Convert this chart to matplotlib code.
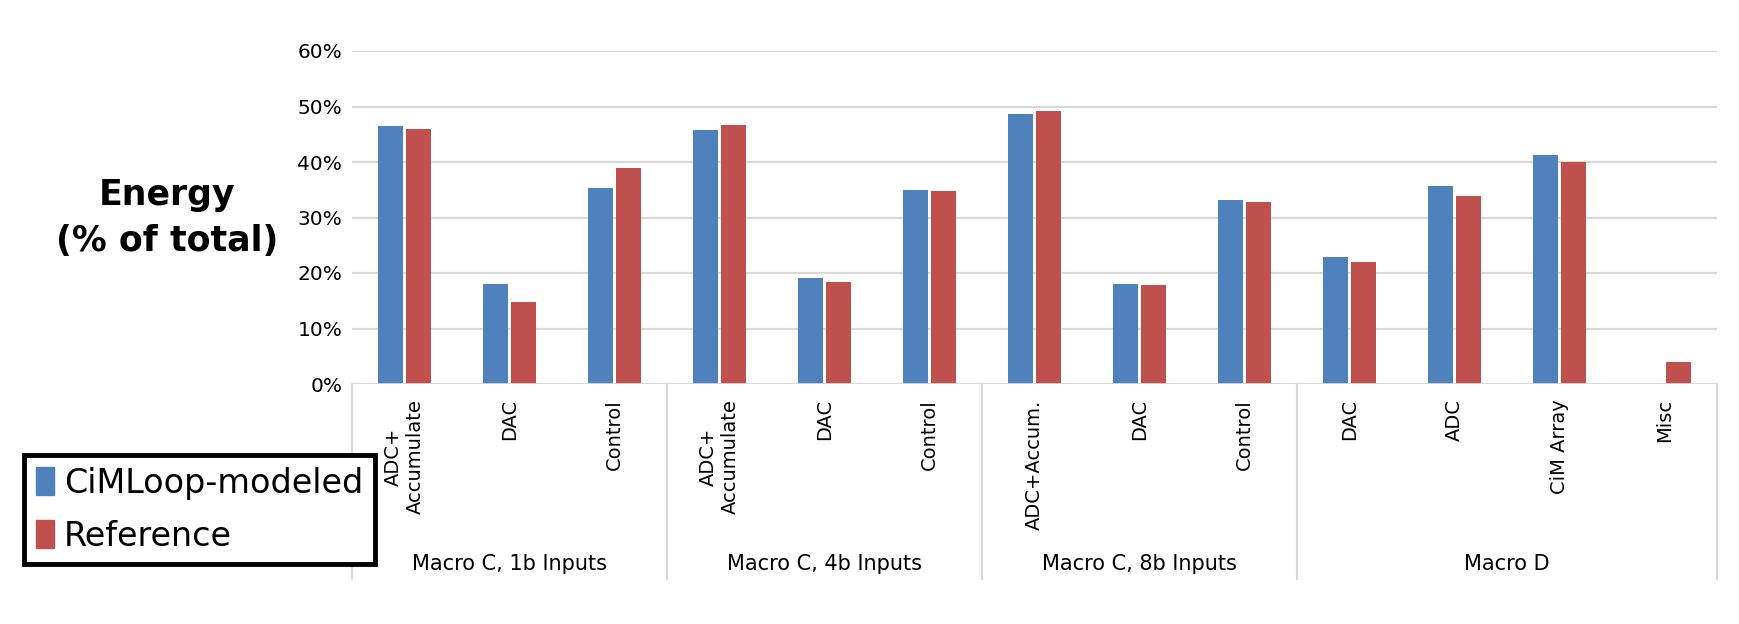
import matplotlib
matplotlib.use("Agg")
import matplotlib.pyplot as plt
from matplotlib.patches import Patch
from matplotlib.transforms import blended_transform_factory
import numpy as np

# values (% of total energy)
categories = [
    "ADC+\nAccumulate", "DAC", "Control",
    "ADC+\nAccumulate", "DAC", "Control",
    "ADC+Accum.", "DAC", "Control",
    "DAC", "ADC", "CiM Array", "Misc",
]
groups = ["Macro C, 1b Inputs", "Macro C, 4b Inputs", "Macro C, 8b Inputs", "Macro D"]
group_sizes = [3, 3, 3, 4]
cimloop = [46.5, 18.1, 35.3, 45.8, 19.1, 35.0, 48.6, 18.1, 33.1, 22.9, 35.7, 41.3, 0.0]
reference = [46.0, 14.8, 38.9, 46.6, 18.4, 34.8, 49.2, 17.8, 32.8, 22.0, 33.9, 40.0, 4.0]
yticks = [0, 10, 20, 30, 40, 50, 60]

BLUE = "#4F81BD"
RED = "#C0504D"
GRID = "#d9d9d9"

plt.rcParams["font.family"] = "DejaVu Sans"

fig = plt.figure(figsize=(17.4, 6.24), dpi=100)
ax = fig.add_axes([352 / 1740, 1 - 384 / 624, 1365 / 1740, 333 / 624])

x = np.arange(len(categories))
w = 0.235
ax.bar(x - 0.133, cimloop, width=w, color=BLUE, zorder=3)
ax.bar(x + 0.133, reference, width=w, color=RED, zorder=3)

ax.set_xlim(-0.5, len(categories) - 0.5)
ax.set_ylim(0, 60)
ax.set_yticks(yticks)
ax.set_yticklabels([f"{v}%" for v in yticks], fontsize=14.5)
ax.yaxis.grid(True, color=GRID, linewidth=1.6, zorder=0)
for s in ax.spines.values():
    s.set_visible(False)
ax.axhline(0, color=GRID, linewidth=2, zorder=4)
ax.tick_params(axis="y", length=0, pad=7)

ax.set_xticks(x)
ax.set_xticklabels(categories, rotation=90, va="top", ha="center",
                   multialignment="center", fontsize=14)
ax.tick_params(axis="x", length=0, pad=11)

# group separators and group labels below the axis
trans = blended_transform_factory(ax.transData, ax.transAxes)
bottom = -(579 - 384) / 333
edges = np.concatenate([[0], np.cumsum(group_sizes)]) - 0.5
for e in edges:
    ax.plot([e, e], [0, bottom], color=GRID, linewidth=1.5, transform=trans, clip_on=False)
for name, lo, hi in zip(groups, edges[:-1], edges[1:]):
    ax.text((lo + hi) / 2, -(564 - 384) / 333, name, transform=trans,
            ha="center", va="center", fontsize=15)

fig.text(167 / 1740, 1 - 218 / 624, "Energy\n(% of total)", ha="center", va="center",
         fontsize=25, fontweight="bold", linespacing=1.45)

handles = [Patch(color=BLUE, label="CiMLoop-modeled"), Patch(color=RED, label="Reference")]
leg = fig.legend(handles=handles, loc="upper left", bbox_to_anchor=(24 / 1740, 1 - 455 / 624),
                 prop={"size": 24}, frameon=True, fancybox=False, framealpha=1,
                 handlelength=0.55, handleheight=0.9, handletextpad=0.3,
                 borderpad=0.35, labelspacing=0.6, borderaxespad=0)
leg.get_frame().set_edgecolor("black")
leg.get_frame().set_linewidth(3.5)

fig.savefig("out.png", dpi=100)
